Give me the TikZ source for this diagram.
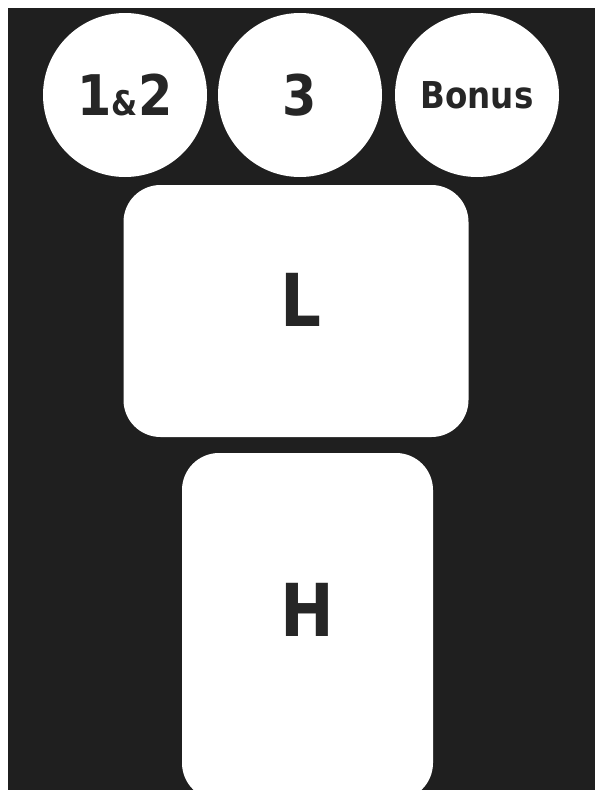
\documentclass[tikz,border=0pt]{standalone}
\usepackage{fontspec}
\setmainfont{DejaVu Sans}[FakeStretch=0.88]
\definecolor{board}{gray}{0.12}
\definecolor{ink}{gray}{0.15}

\begin{document}
\begin{tikzpicture}[x=1pt,y=-1pt,
  ball/.style={circle,fill=white,minimum size=164pt,inner sep=0pt,text=ink,
    font=\bfseries\fontsize{56}{56}\selectfont},
  keycap/.style={fill=white,rounded corners=37pt,inner sep=0pt,text=ink,
    font=\bfseries\fontsize{73}{73}\selectfont}]
\useasboundingbox (0,0) rectangle (595,790);
\fill[board] (8,8) rectangle (595,790);

\node[ball] (onetwo) at (125,95) {1{\fontsize{34}{34}\selectfont\&}2};
\node[ball] (three) at (300,95) {3};
\node[ball,font=\bfseries\fontsize{37}{37}\selectfont] (bonus) at (477,95) {Bonus};

\node[keycap,minimum width=345pt,minimum height=252pt,text depth=22pt] (keyL) at (296,311) {\hspace*{10pt}L};
\node[keycap,minimum width=251pt,minimum height=347pt,text depth=34pt] (keyH) at (307.5,626.5) {H};
\end{tikzpicture}
\end{document}
